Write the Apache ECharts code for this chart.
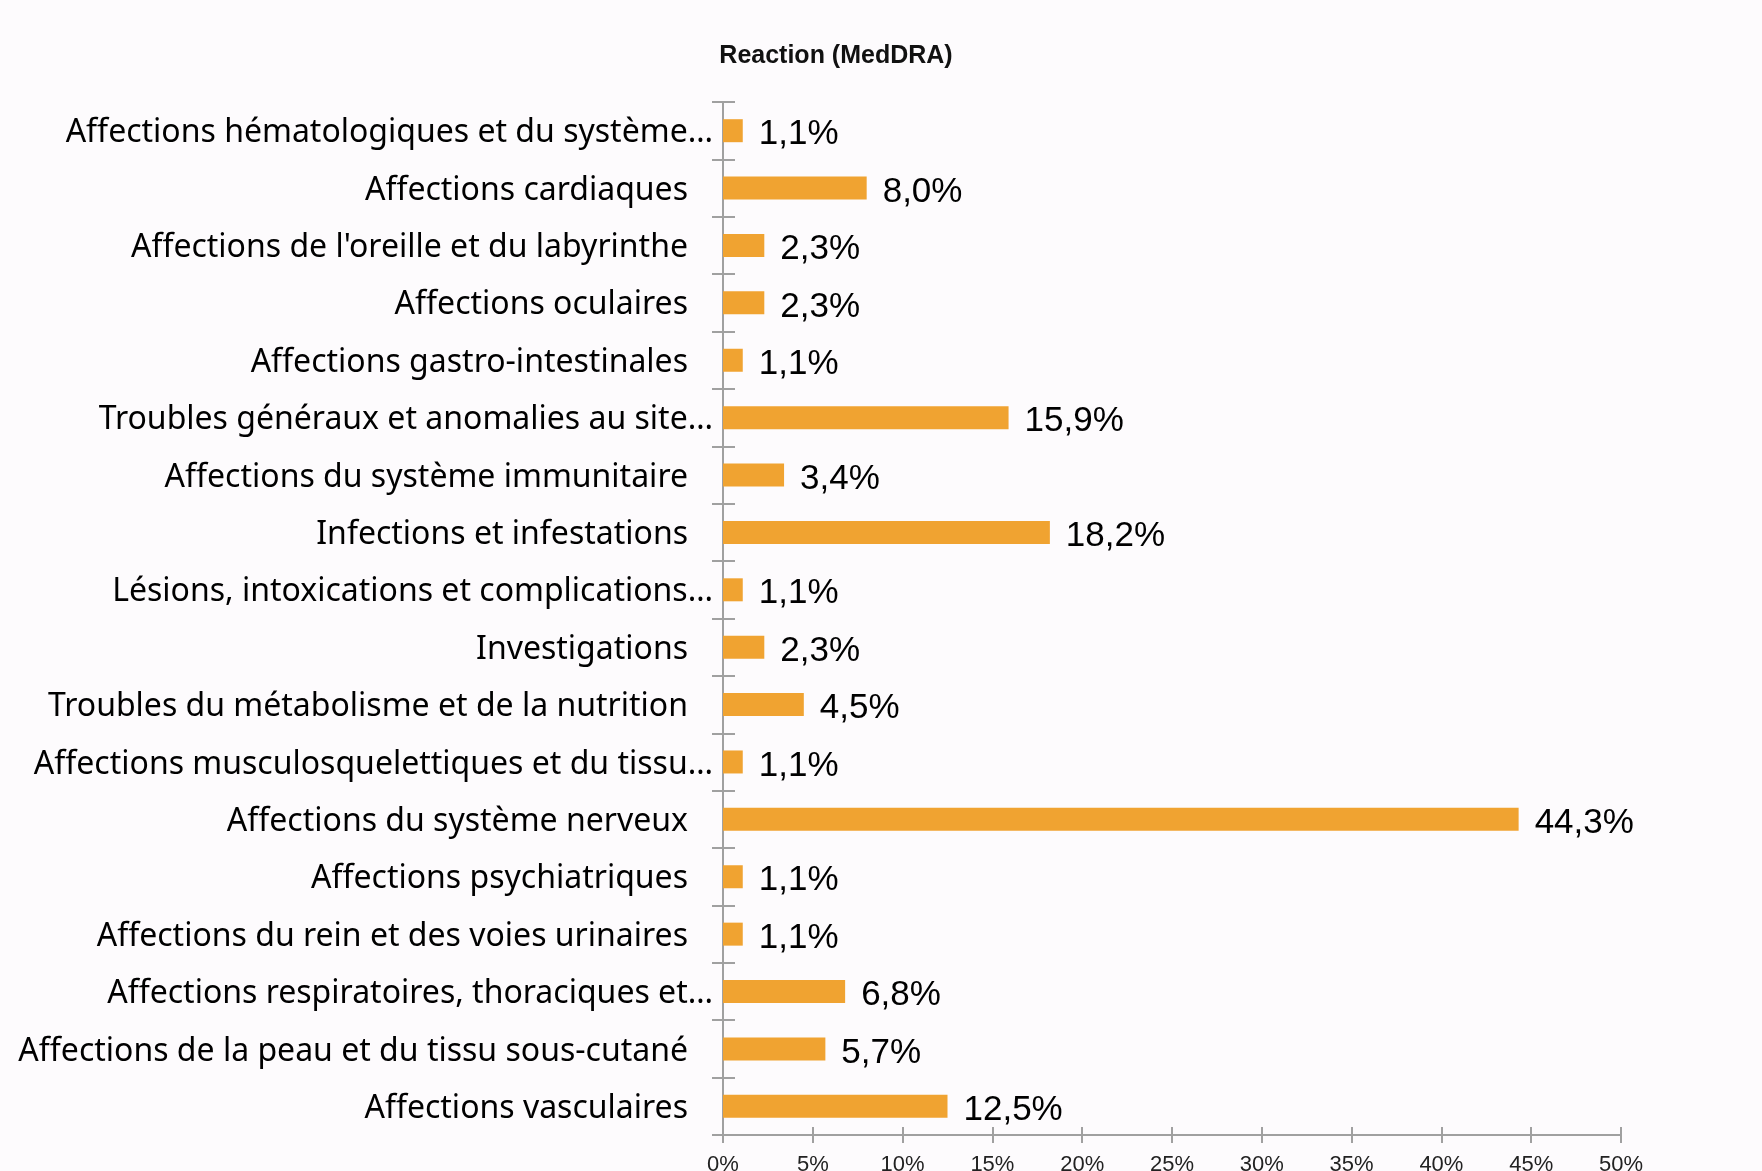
<!DOCTYPE html>
<html>
<head>
<meta charset="utf-8">
<script src="https://cdn.jsdelivr.net/npm/echarts@6/dist/echarts.min.js"></script>
<style>html,body{margin:0;padding:0;background:#fdfbfd;}#c{width:1762px;height:1171px;}</style>
</head>
<body>
<div id="c"></div>
<script>
const categories = [
  "Affections hématologiques et du système…",
  "Affections cardiaques",
  "Affections de l'oreille et du labyrinthe",
  "Affections oculaires",
  "Affections gastro-intestinales",
  "Troubles généraux et anomalies au site…",
  "Affections du système immunitaire",
  "Infections et infestations",
  "Lésions, intoxications et complications…",
  "Investigations",
  "Troubles du métabolisme et de la nutrition",
  "Affections musculosquelettiques et du tissu…",
  "Affections du système nerveux",
  "Affections psychiatriques",
  "Affections du rein et des voies urinaires",
  "Affections respiratoires, thoraciques et…",
  "Affections de la peau et du tissu sous-cutané",
  "Affections vasculaires"
];
const values = [1.1, 8.0, 2.3, 2.3, 1.1, 15.9, 3.4, 18.2, 1.1, 2.3, 4.5, 1.1, 44.3, 1.1, 1.1, 6.8, 5.7, 12.5];
const xTicks = [0, 5, 10, 15, 20, 25, 30, 35, 40, 45, 50];
const title = "Reaction (MedDRA)";

const chart = echarts.init(document.getElementById('c'));
const axisColor = '#a0a0a0';
chart.setOption({
  backgroundColor: '#fdfbfd',
  animation: false,
  title: {
    text: title, left: 831, top: 39, textAlign: 'center',
    textStyle: {fontFamily: 'Liberation Sans', fontSize: 25, fontWeight: 'bold', color: '#111'}
  },
  grid: {left: 723, right: 141, top: 102, bottom: 36, containLabel: false, outerBoundsMode: 'none'},
  xAxis: [{
    type: 'value', min: xTicks[0], max: xTicks[xTicks.length - 1], interval: 5,
    axisLine: {show: true, lineStyle: {color: axisColor, width: 2}},
    axisTick: {show: true, length: 8, lineStyle: {color: axisColor, width: 2}},
    splitLine: {show: false},
    axisLabel: {formatter: v => v + '%', fontFamily: 'Liberation Sans', fontSize: 22, color: '#222', margin: 19}
  }, {
    type: 'value', position: 'bottom', min: xTicks[0], max: xTicks[xTicks.length - 1], interval: 5,
    axisLine: {show: false},
    axisTick: {show: true, inside: true, length: 8, lineStyle: {color: axisColor, width: 2}},
    splitLine: {show: false}, axisLabel: {show: false}
  }],
  yAxis: [{
    type: 'category', inverse: true, data: categories,
    axisLine: {show: true, lineStyle: {color: axisColor, width: 2}},
    axisTick: {show: true, length: 11, lineStyle: {color: axisColor, width: 2}},
    axisLabel: {
      margin: 10,
      formatter: v => v.endsWith('…') ? '{e|' + v + '}' : '{n|' + v + '}',
      rich: {
        e: {fontFamily: 'Noto Sans', fontSize: 32, color: '#000', padding: [5, 0, 0, 0]},
        n: {fontFamily: 'Noto Sans', fontSize: 32, color: '#000', padding: [5, 25, 0, 0]}
      }
    }
  }, {
    type: 'category', inverse: true, data: categories, position: 'left',
    axisLine: {show: false},
    axisTick: {show: true, inside: true, length: 12, lineStyle: {color: axisColor, width: 2}},
    axisLabel: {show: false}
  }],
  series: [{
    type: 'bar', data: values, barWidth: 23,
    itemStyle: {color: '#f0a331'},
    label: {
      show: true, position: 'right', distance: 16, offset: [0, 4],
      formatter: p => p.value.toFixed(1).replace('.', ',') + '%',
      fontFamily: 'Liberation Sans', fontSize: 35, color: '#000'
    }
  }]
});
</script>
</body>
</html>
